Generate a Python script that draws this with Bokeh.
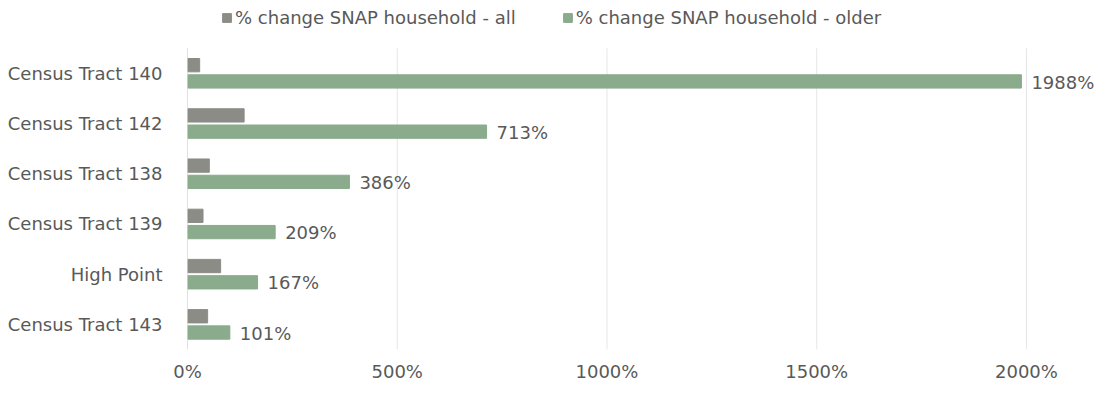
from bokeh.plotting import figure
from bokeh.models import (ColumnDataSource, Range1d, LabelSet, Legend, LegendItem,
                          FixedTicker, CustomJSTickFormatter)
from bokeh.core.properties import value
from bokeh.transform import dodge
from bokeh.embed import file_html
from bokeh.resources import INLINE

categories = ["Census Tract 140", "Census Tract 142", "Census Tract 138",
              "Census Tract 139", "High Point", "Census Tract 143"]
pct_all = [29, 135, 52, 37, 79, 48]
pct_older = [1988, 713, 386, 209, 167, 101]
older_labels = ["1988%", "713%", "386%", "209%", "167%", "101%"]
tick_values = [0, 500, 1000, 1500, 2000]

GRAY = "#8c8c87"
GREEN = "#8aab8c"
TEXT = "#595959"
FONT = "DejaVu Sans"
FS = "18px"

n = len(categories)
ypos = [n - 1 - i for i in range(n)]  # top category highest

src = ColumnDataSource(dict(cat=categories, y=ypos, all=pct_all, older=pct_older, lab=older_labels))

p = figure(width=1096, height=384, output_backend="svg", toolbar_location=None,
           x_range=Range1d(0, 2167), y_range=Range1d(-0.5, n - 0.5 + 0.95),
           min_border_left=187, min_border_right=0, min_border_bottom=26, min_border_top=0)

# vertical gridlines limited to the category band
grid_src = ColumnDataSource(dict(x=tick_values, y0=[-0.5] * len(tick_values),
                                 y1=[n - 0.5] * len(tick_values)))
p.segment(x0="x", x1="x", y0="y0", y1="y1", source=grid_src, line_color="#e6e6e6", line_width=1)

r_all = p.hbar(y=dodge("y", 0.162), right="all", left=0, height=0.265, source=src, color=GRAY)
r_old = p.hbar(y=dodge("y", -0.162), right="older", left=0, height=0.265, source=src, color=GREEN)

# left axis line
p.segment(x0=[0], x1=[0], y0=[-0.5], y1=[n - 0.5], line_color="#d0d0d0", line_width=1)

labels = LabelSet(x="older", y=dodge("y", -0.175), text="lab", source=src,
                  x_offset=10, text_baseline="middle", text_font_size=FS,
                  text_color=TEXT, text_font=value(FONT))
p.add_layout(labels)

legend = Legend(items=[LegendItem(label="% change SNAP household - all", renderers=[r_all]),
                       LegendItem(label="% change SNAP household - older", renderers=[r_old])],
                orientation="horizontal", location=(34, 321),
                glyph_width=11, glyph_height=11, label_text_font_size=FS,
                label_text_color=TEXT, label_text_font=FONT, spacing=46,
                border_line_color=None, background_fill_alpha=0,
                padding=0, margin=0, label_standoff=3)
p.add_layout(legend)

p.xaxis.ticker = FixedTicker(ticks=tick_values)
p.xaxis.formatter = CustomJSTickFormatter(code="return tick + '%';")
p.xaxis.axis_line_color = None
p.xaxis.major_tick_line_color = None
p.xaxis.minor_tick_line_color = None
p.xaxis.major_label_text_font_size = FS
p.xaxis.major_label_text_color = TEXT
p.xaxis.major_label_text_font = FONT
p.xaxis.major_label_standoff = 5

p.yaxis.ticker = FixedTicker(ticks=ypos)
p.yaxis.major_label_overrides = {y: c for y, c in zip(ypos, categories)}
p.yaxis.axis_line_color = None
p.yaxis.major_tick_line_color = None
p.yaxis.minor_tick_line_color = None
p.yaxis.major_label_text_font_size = FS
p.yaxis.major_label_text_color = TEXT
p.yaxis.major_label_text_font = FONT
p.yaxis.major_label_standoff = 19

p.xgrid.grid_line_color = None
p.ygrid.grid_line_color = None
p.outline_line_color = None

open("out.html", "w").write(file_html(p, INLINE))
